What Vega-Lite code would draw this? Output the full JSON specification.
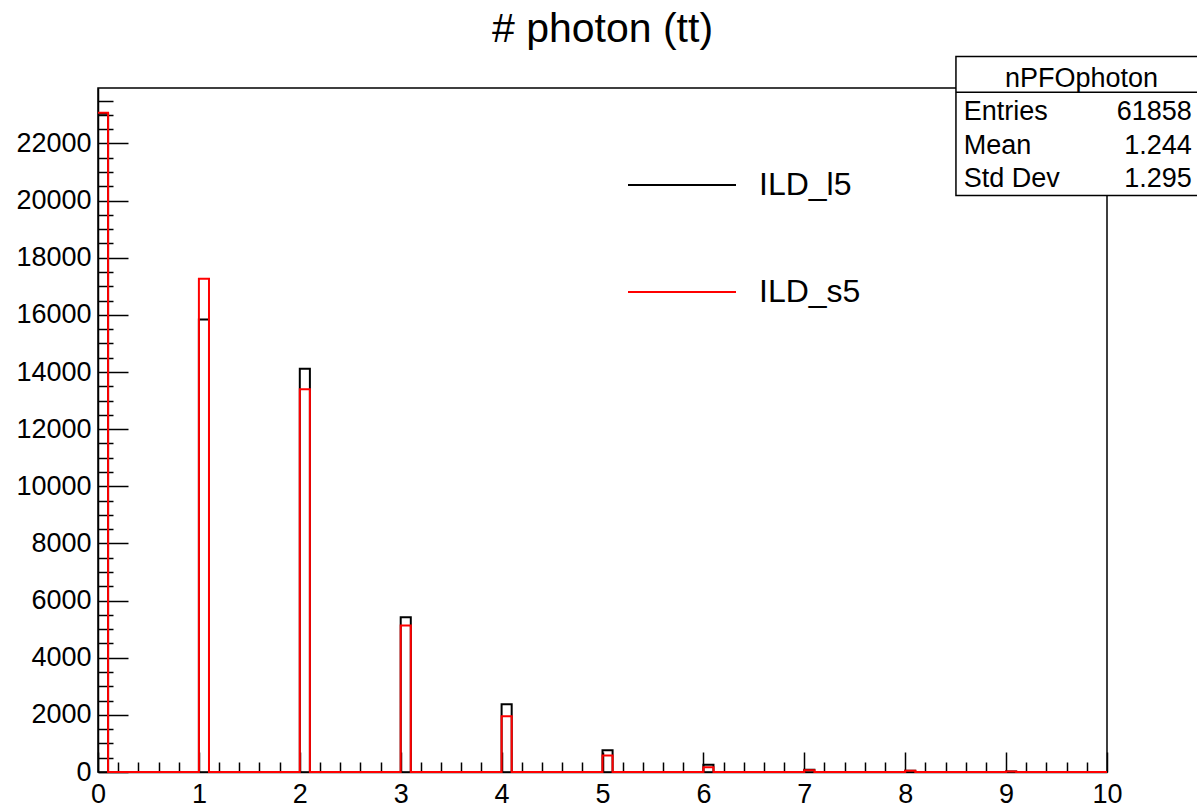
{
  "$schema": "https://vega.github.io/schema/vega-lite/v6.json",
  "width": 1009,
  "height": 684,
  "autosize": {"type": "none"},
  "padding": {"left": 98, "top": 88, "right": 90, "bottom": 37},
  "background": "white",
  "title": {"text": "# photon (tt)", "fontSize": 41, "font": "Liberation Sans", "fontWeight": "normal", "color": "black", "anchor": "middle", "offset": 5},
  "config": {
    "view": {"stroke": "black", "strokeWidth": 1.5},
    "font": "Liberation Sans",
    "axis": {"grid": false, "title": null, "labelFlush": false, "labelOverlap": false, "labelBound": false, "labelFont": "Liberation Sans", "labelColor": "black", "tickColor": "black", "tickWidth": 1.5, "domainColor": "black", "domainWidth": 1.5}
  },
  "datasets": {
    "hist": [
      {"series": "ILD_l5", "bin_low": 0, "count": 23040},
      {"series": "ILD_l5", "bin_low": 0.1, "count": 0},
      {"series": "ILD_l5", "bin_low": 1, "count": 15840},
      {"series": "ILD_l5", "bin_low": 1.1, "count": 0},
      {"series": "ILD_l5", "bin_low": 2, "count": 14110},
      {"series": "ILD_l5", "bin_low": 2.1, "count": 0},
      {"series": "ILD_l5", "bin_low": 3, "count": 5420},
      {"series": "ILD_l5", "bin_low": 3.1, "count": 0},
      {"series": "ILD_l5", "bin_low": 4, "count": 2375},
      {"series": "ILD_l5", "bin_low": 4.1, "count": 0},
      {"series": "ILD_l5", "bin_low": 5, "count": 765},
      {"series": "ILD_l5", "bin_low": 5.1, "count": 0},
      {"series": "ILD_l5", "bin_low": 6, "count": 250},
      {"series": "ILD_l5", "bin_low": 6.1, "count": 0},
      {"series": "ILD_l5", "bin_low": 7, "count": 75},
      {"series": "ILD_l5", "bin_low": 7.1, "count": 0},
      {"series": "ILD_l5", "bin_low": 8, "count": 40},
      {"series": "ILD_l5", "bin_low": 8.1, "count": 0},
      {"series": "ILD_l5", "bin_low": 9, "count": 15},
      {"series": "ILD_l5", "bin_low": 9.1, "count": 0},
      {"series": "ILD_l5", "bin_low": 10, "count": 0},
      {"series": "ILD_s5", "bin_low": 0, "count": 23070},
      {"series": "ILD_s5", "bin_low": 0.1, "count": 0},
      {"series": "ILD_s5", "bin_low": 1, "count": 17260},
      {"series": "ILD_s5", "bin_low": 1.1, "count": 0},
      {"series": "ILD_s5", "bin_low": 2, "count": 13400},
      {"series": "ILD_s5", "bin_low": 2.1, "count": 0},
      {"series": "ILD_s5", "bin_low": 3, "count": 5130},
      {"series": "ILD_s5", "bin_low": 3.1, "count": 0},
      {"series": "ILD_s5", "bin_low": 4, "count": 1955},
      {"series": "ILD_s5", "bin_low": 4.1, "count": 0},
      {"series": "ILD_s5", "bin_low": 5, "count": 580},
      {"series": "ILD_s5", "bin_low": 5.1, "count": 0},
      {"series": "ILD_s5", "bin_low": 6, "count": 170},
      {"series": "ILD_s5", "bin_low": 6.1, "count": 0},
      {"series": "ILD_s5", "bin_low": 7, "count": 65},
      {"series": "ILD_s5", "bin_low": 7.1, "count": 0},
      {"series": "ILD_s5", "bin_low": 8, "count": 40},
      {"series": "ILD_s5", "bin_low": 8.1, "count": 0},
      {"series": "ILD_s5", "bin_low": 9, "count": 15},
      {"series": "ILD_s5", "bin_low": 9.1, "count": 0},
      {"series": "ILD_s5", "bin_low": 10, "count": 0}
    ],
    "stats": [
      {"row": "Entries", "value": "61858"},
      {"row": "Mean", "value": "1.244"},
      {"row": "Std Dev", "value": "1.295"}
    ],
    "header": [{"row": "nPFOphoton"}],
    "box": [{"name": "stats box"}]
  },
  "layer": [
    {
      "data": {"name": "box"},
      "mark": {"type": "rect", "fill": "white", "opacity": 0},
      "encoding": {
        "x": {"datum": 0, "type": "quantitative", "scale": {"domain": [0, 10], "nice": false, "zero": false},
          "axis": {"orient": "bottom", "values": [0.2,0.4,0.6,0.8,1.2,1.4,1.6,1.8,2.2,2.4,2.6,2.8,3.2,3.4,3.6,3.8,4.2,4.4,4.6,4.8,5.2,5.4,5.6,5.8,6.2,6.4,6.6,6.8,7.2,7.4,7.6,7.8,8.2,8.4,8.6,8.8,9.2,9.4,9.6,9.8], "tickSize": -10, "labels": false, "domain": false}},
        "x2": {"datum": 0},
        "y": {"datum": 0, "type": "quantitative", "scale": {"domain": [0, 23940], "nice": false, "zero": false},
          "axis": {"orient": "left", "values": [500,1000,1500,2500,3000,3500,4500,5000,5500,6500,7000,7500,8500,9000,9500,10500,11000,11500,12500,13000,13500,14500,15000,15500,16500,17000,17500,18500,19000,19500,20500,21000,21500,22500,23000,23500], "tickSize": -15, "labels": false, "domain": false}},
        "y2": {"datum": 0}
      }
    },
    {
      "data": {"name": "hist"},
      "mark": {"type": "line", "interpolate": "step-after", "strokeWidth": 2},
      "encoding": {
        "x": {
          "field": "bin_low", "type": "quantitative",
          "scale": {"domain": [0, 10], "nice": false, "zero": false},
          "axis": {"orient": "bottom", "values": [0,1,2,3,4,5,6,7,8,9,10], "format": "d", "tickSize": -20, "labelPadding": 29, "labelFontSize": 27}
        },
        "y": {
          "field": "count", "type": "quantitative",
          "scale": {"domain": [0, 23940], "nice": false, "zero": false},
          "axis": {"orient": "left", "values": [0,2000,4000,6000,8000,10000,12000,14000,16000,18000,20000,22000], "format": "d", "tickSize": -30, "labelPadding": 37, "labelFontSize": 27}
        },
        "color": {
          "field": "series", "type": "nominal",
          "scale": {"domain": ["ILD_l5", "ILD_s5"], "range": ["#000000", "#ff0000"]},
          "legend": {
            "orient": "none", "legendX": 529, "legendY": 42, "title": null,
            "symbolType": "stroke", "symbolSize": 11664, "symbolStrokeWidth": 2,
            "labelFontSize": 32, "labelFont": "Liberation Sans", "labelColor": "black",
            "labelOffset": 22, "rowPadding": 36, "padding": 0, "labelLimit": 300
          }
        }
      }
    },
    {
      "data": {"name": "box"},
      "mark": {"type": "rect", "fill": "white", "stroke": "black", "strokeWidth": 1.5},
      "encoding": {
        "x": {"datum": 8.503, "type": "quantitative", "scale": {"domain": [0, 10], "nice": false, "zero": false}, "axis": null},
        "x2": {"datum": 10.93},
        "y": {"datum": 25044, "type": "quantitative", "scale": {"domain": [0, 23940], "nice": false, "zero": false}, "axis": null},
        "y2": {"datum": 20178}
      }
    },
    {
      "data": {"name": "box"},
      "mark": {"type": "rule", "stroke": "black", "strokeWidth": 1.5},
      "encoding": {
        "x": {"datum": 8.503, "type": "quantitative", "scale": {"domain": [0, 10], "nice": false, "zero": false}, "axis": null},
        "x2": {"datum": 10.93},
        "y": {"datum": 23794, "type": "quantitative", "scale": {"domain": [0, 23940], "nice": false, "zero": false}, "axis": null}
      }
    },
    {
      "data": {"name": "header"},
      "mark": {"type": "text", "align": "center", "baseline": "middle", "fontSize": 27, "font": "Liberation Sans", "color": "black"},
      "encoding": {
        "x": {"datum": 9.747, "type": "quantitative", "scale": {"domain": [0, 10], "nice": false, "zero": false}, "axis": null},
        "y": {"field": "row", "type": "nominal", "scale": {"type": "point", "domain": ["nPFOphoton", "Entries", "Mean", "Std Dev"], "range": [-9, 91], "padding": 0}, "axis": null},
        "text": {"field": "row"}
      }
    },
    {
      "data": {"name": "stats"},
      "mark": {"type": "text", "align": "left", "baseline": "middle", "fontSize": 27, "font": "Liberation Sans", "color": "black"},
      "encoding": {
        "x": {"datum": 8.58, "type": "quantitative", "scale": {"domain": [0, 10], "nice": false, "zero": false}, "axis": null},
        "y": {"field": "row", "type": "nominal", "scale": {"type": "point", "domain": ["nPFOphoton", "Entries", "Mean", "Std Dev"], "range": [-9, 91], "padding": 0}, "axis": null},
        "text": {"field": "row"}
      }
    },
    {
      "data": {"name": "stats"},
      "mark": {"type": "text", "align": "right", "baseline": "middle", "fontSize": 27, "font": "Liberation Sans", "color": "black"},
      "encoding": {
        "x": {"datum": 10.84, "type": "quantitative", "scale": {"domain": [0, 10], "nice": false, "zero": false}, "axis": null},
        "y": {"field": "row", "type": "nominal", "scale": {"type": "point", "domain": ["nPFOphoton", "Entries", "Mean", "Std Dev"], "range": [-9, 91], "padding": 0}, "axis": null},
        "text": {"field": "value"}
      }
    }
  ],
  "resolve": {"scale": {"y": "independent"}, "axis": {"x": "independent", "y": "independent"}}
}
